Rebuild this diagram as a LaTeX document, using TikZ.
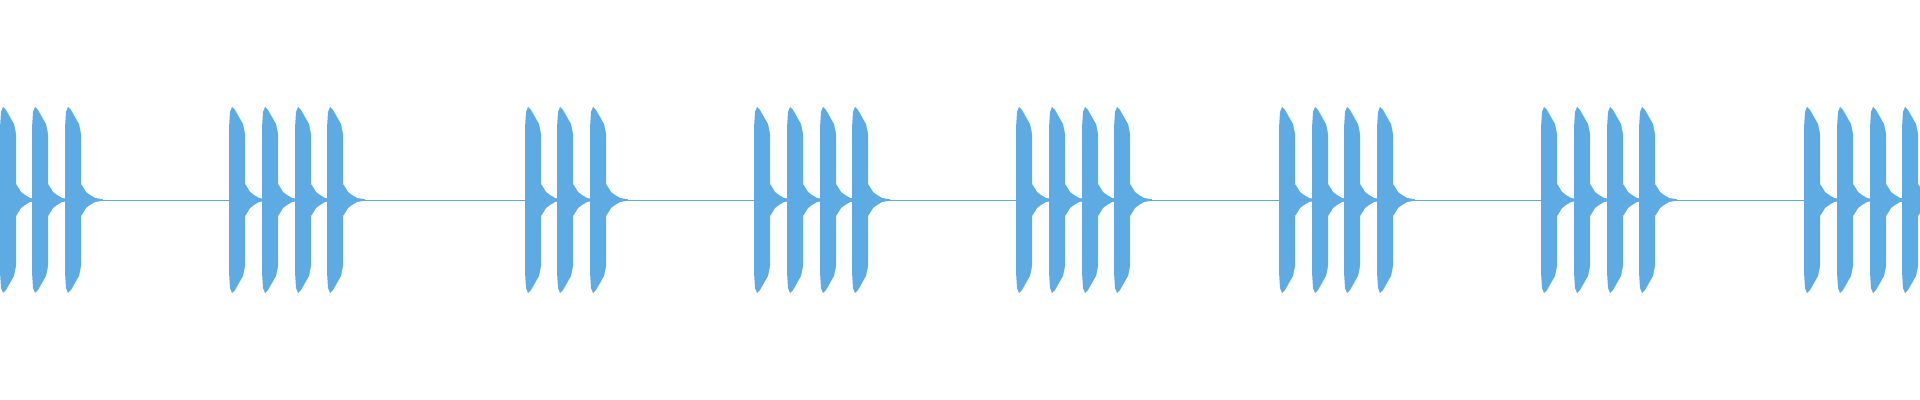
\documentclass[tikz,border=0pt]{standalone}
\definecolor{wave}{RGB}{93,171,226}
\begin{document}
\begin{tikzpicture}[x=0.5pt,y=-0.5pt]
\useasboundingbox (0,0) rectangle (1920,400);
\draw[wave,line width=0.45pt] (0,200) -- (1920,200);
\foreach \s in {0,32,65, 229,262,295,327, 525,557,590, 754,787,820,852, 1016,1049,1082,1114, 1279,1312,1344,1377, 1541,1574,1607,1639, 1804,1837,1870,1902}{
\fill[wave] (\s,200) -- (\s,128) -- (\s+1,112) -- (\s+3,107) -- (\s+6,110) -- (\s+10,117) -- (\s+14,124) -- (\s+16,134) -- (\s+16,184) -- (\s+18,187) -- (\s+21,192) -- (\s+25,195) -- (\s+30,198) -- (\s+38,199.3)
 -- (\s+38,200.7) -- (\s+30,202) -- (\s+25,205) -- (\s+21,208) -- (\s+18,213) -- (\s+16,216) -- (\s+16,266) -- (\s+14,276) -- (\s+10,283) -- (\s+6,290) -- (\s+3,293) -- (\s+1,288) -- (\s,272) -- cycle;
}
\end{tikzpicture}
\end{document}
